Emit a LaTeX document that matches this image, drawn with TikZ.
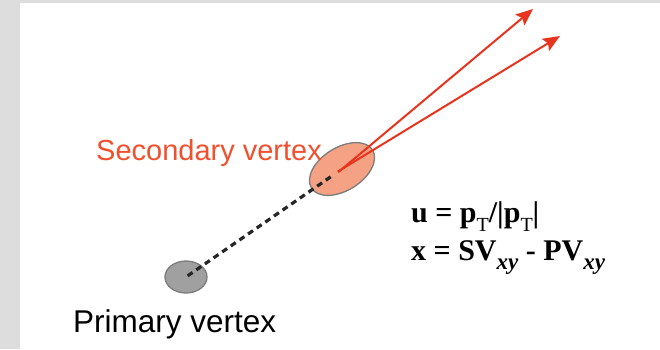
\documentclass[tikz,border=0pt]{standalone}
\usepackage{fontspec}
\usepackage{xcolor}
\usetikzlibrary{shapes.geometric,arrows.meta}
\setmainfont{Liberation Sans}
\newfontfamily\formfont{Liberation Serif}
\definecolor{backgray}{HTML}{DDDDDD}
\definecolor{pvgray}{HTML}{A0A0A0}
\definecolor{rimgray}{HTML}{7C7C7C}
\definecolor{salmon}{HTML}{F4A283}
\definecolor{labelred}{HTML}{F0502D}
\definecolor{trackred}{HTML}{E8341E}
\newcommand{\lo}[2]{\raisebox{-0.3em}{\fontsize{#1}{#1}\selectfont #2}}

\begin{document}
\begin{tikzpicture}[x=1pt,y=-1pt,
  vertex/.style={draw=rimgray,line width=1.3pt,ellipse,inner sep=0pt},
  track/.style={-{Stealth[length=17pt,width=14pt,inset=3pt]},line width=2pt,color=trackred},
  flight/.style={line width=3.2pt,dash pattern=on 6pt off 4.5pt,black!85},
  formula/.style={anchor=base west,inner sep=0pt,font=\formfont\bfseries\fontsize{30}{36}\selectfont}]
\fill[backgray] (0,0) rectangle (660,349);
\fill[white] (20,3) rectangle (660,349);
\useasboundingbox (0,0) rectangle (660,349);
% vertices
\node[vertex,fill=pvgray,minimum width=42pt,minimum height=32pt] (pv) at (186,277) {};
\node[vertex,fill=salmon,minimum width=72pt,minimum height=43pt,rotate=32] (sv) at (342,169) {};
\coordinate (tipa) at (533,9);
\coordinate (tipb) at (560,36);
% decay length and tracks
\draw[flight,shorten <=2pt,shorten >=12pt] (pv.center) -- (sv.center);
\draw[track,shorten <=-5pt] (sv.center) -- (tipa);
\draw[track,shorten <=-5pt] (sv.center) -- (tipb);
% labels
\node[anchor=base west,inner sep=0pt,text=labelred,font=\fontsize{29}{34}\selectfont] (svlabel) at (96,160) {Secondary vertex};
\node[anchor=base west,inner sep=0pt,font=\fontsize{31.5}{36}\selectfont] (pvlabel) at (73,332) {Primary vertex};
\node[formula] (uline) at (411,222) {u = p\lo{20}{\mdseries T}/|p\lo{20}{\mdseries T}|};
\node[formula] (xline) at (411,260) {x = SV\lo{23}{\itshape xy} - PV\lo{23}{\itshape xy}};
\end{tikzpicture}
\end{document}
